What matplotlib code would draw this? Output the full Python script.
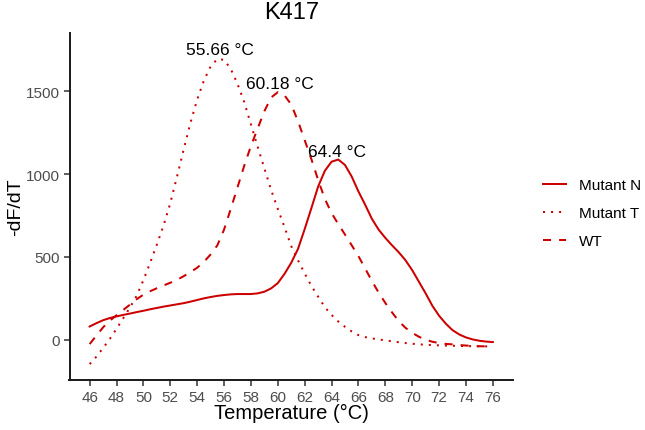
import numpy as np
from matplotlib import pyplot as plt

plt.rcParams['font.family'] = ['Liberation Sans', 'DejaVu Sans']

temperature = np.arange(46, 76.01, 0.5)

mutant_n = [80, 100, 118, 131, 141, 150, 158, 167, 175, 184,
            192, 200, 207, 214, 221, 230, 240, 250, 258, 265,
            270, 274, 276, 276, 276, 280, 290, 310, 342, 398,
            465, 548, 668, 795, 925, 1020, 1075, 1088, 1055, 985,
            895, 815, 730, 665, 615, 570, 528, 480, 420, 350,
            280, 205, 145, 97, 58, 32, 14, 2, -6, -11, -14]

mutant_t = [-147, -102, -50, 5, 66, 130, 195, 266, 360, 465,
            575, 690, 825, 985, 1150, 1310, 1450, 1565, 1650, 1695,
            1690, 1635, 1545, 1435, 1300, 1165, 1035, 905, 790, 680,
            565, 480, 400, 325, 260, 197, 150, 110, 78, 50,
            28, 16, 8, 2, -4, -9, -15, -20, -24, -28,
            -30, -32, -34, -35, -36, -37, -38, -39, -40, -40, -41]

wt = [-26, 25, 75, 115, 148, 180, 212, 245, 272, 293,
      311, 328, 344, 362, 384, 408, 435, 470, 515, 570,
      665, 790, 920, 1050, 1170, 1275, 1380, 1462, 1495, 1475,
      1420, 1320, 1205, 1090, 965, 850, 765, 698, 635, 570,
      505, 430, 355, 285, 222, 165, 112, 72, 42, 18,
      0, -12, -20, -25, -28, -32, -35, -37, -39, -40, -42]

labels = ['Mutant N', 'Mutant T', 'WT']
peak_temps = [64.4, 55.66, 60.18]
peak_heights = [1090, 1705, 1498]

color = '#CD0000'
styles = ['-', (0, (1, 3)), (0, (4, 4))]

fig = plt.figure(figsize=(6.45, 4.31), dpi=100)
ax = fig.add_axes([69.5 / 645, 1 - 381 / 431, (513 - 69.5) / 645, (381 - 34) / 431])

for series, lab, ls in zip([mutant_n, mutant_t, wt], labels, styles):
    ax.plot(temperature, series, color=color, ls=ls, lw=1.45, label=lab)

for t, h in zip(peak_temps, peak_heights):
    ax.annotate('%s °C' % t, (t, h), xytext=(0, 2.5), textcoords='offset points',
                ha='center', va='baseline', fontsize=12.5, color='black')

ax.set_xlim(44.5, 77.5)
ax.set_ylim(-243, 1852)
ax.set_xticks(np.arange(46, 77, 2))
ax.set_yticks([0, 500, 1000, 1500])
for s in ['top', 'right']:
    ax.spines[s].set_visible(False)
for s in ['left', 'bottom']:
    ax.spines[s].set_linewidth(1.4)
    ax.spines[s].set_color('#1a1a1a')
ax.tick_params(length=4, width=1.1, color='#333333', labelsize=11,
               labelcolor='#4D4D4D', pad=3)
ax.set_xlabel('Temperature (°C)', fontsize=14.5, labelpad=-0.5)
ax.set_ylabel('-dF/dT', fontsize=14, labelpad=1)
ax.set_title('K417', fontsize=17, pad=11)

fig.legend(loc='upper left', bbox_to_anchor=(543 / 645, 1 - 179 / 431),
           frameon=False, fontsize=11, handlelength=1.5, handletextpad=0.85,
           labelspacing=0.93, borderpad=0, borderaxespad=0)

fig.savefig('out.png', dpi=100)
